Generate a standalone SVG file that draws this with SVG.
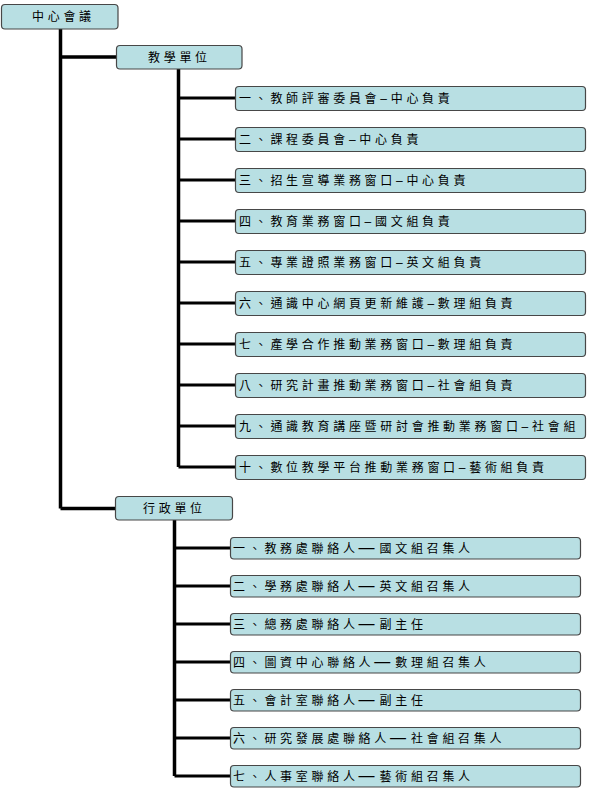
<svg xmlns="http://www.w3.org/2000/svg" width="589" height="793" viewBox="0 0 589 793">
<style>
.box{fill:#b8dfe3;stroke:#474747;stroke-width:1.2}
.lbl{font-family:"Noto Sans CJK TC","Noto Sans CJK SC",sans-serif;font-size:12px;letter-spacing:3.7px;fill:#000}
.en{font-family:"Liberation Sans",sans-serif;font-size:12px;letter-spacing:3.7px}
.em{font-family:"Liberation Sans",sans-serif;font-size:16px;letter-spacing:5px}
.con{stroke:#000;stroke-width:3.5;fill:none}
.hc{stroke:#000;stroke-width:3;fill:none}
</style>
<rect width="589" height="793" fill="#fff"/>
<g id="connectors">
<path class="con" d="M60.5 29V508.5M60.5 57H116M60.5 508.5H115"/>
<path class="con" d="M178.5 69V467"/>
<path class="hc" d="M178.5 98H235M178.5 139H235M178.5 180H235M178.5 221H235M178.5 262H235M178.5 303H235M178.5 344H235M178.5 385H235M178.5 426H235M178.5 467H235"/>
<path class="con" d="M174.5 520V776"/>
<path class="hc" d="M174.5 548H230M174.5 586H230M174.5 624H230M174.5 662H230M174.5 700H230M174.5 738H230M174.5 776H230"/>
</g>
<g id="root"><rect class="box" x="1.5" y="4.5" width="116.5" height="24.5" rx="3.5"/><text class="lbl" x="32" y="21">中心會議</text></g>
<g id="teach"><rect class="box" x="116.5" y="45.5" width="125.5" height="23.5" rx="3.5"/><text class="lbl" x="148" y="62">教學單位</text></g>
<g id="t1"><rect class="box" x="235.5" y="86.5" width="350" height="24" rx="3.5"/><text class="lbl" x="239" y="103">一、教師評審委員會<tspan class="en">–</tspan>中心負責</text></g>
<g id="t2"><rect class="box" x="235.5" y="127.5" width="350" height="24" rx="3.5"/><text class="lbl" x="239" y="144">二、課程委員會<tspan class="en">–</tspan>中心負責</text></g>
<g id="t3"><rect class="box" x="235.5" y="168.5" width="350" height="24" rx="3.5"/><text class="lbl" x="239" y="185">三、招生宣導業務窗口<tspan class="en">–</tspan>中心負責</text></g>
<g id="t4"><rect class="box" x="235.5" y="209.5" width="350" height="24" rx="3.5"/><text class="lbl" x="239" y="226">四、教育業務窗口<tspan class="en">–</tspan>國文組負責</text></g>
<g id="t5"><rect class="box" x="235.5" y="250.5" width="350" height="24" rx="3.5"/><text class="lbl" x="239" y="267">五、專業證照業務窗口<tspan class="en">–</tspan>英文組負責</text></g>
<g id="t6"><rect class="box" x="235.5" y="291.5" width="350" height="24" rx="3.5"/><text class="lbl" x="239" y="308">六、通識中心網頁更新維護<tspan class="en">–</tspan>數理組負責</text></g>
<g id="t7"><rect class="box" x="235.5" y="332.5" width="350" height="24" rx="3.5"/><text class="lbl" x="239" y="349">七、產學合作推動業務窗口<tspan class="en">–</tspan>數理組負責</text></g>
<g id="t8"><rect class="box" x="235.5" y="373.5" width="350" height="24" rx="3.5"/><text class="lbl" x="239" y="390">八、研究計畫推動業務窗口<tspan class="en">–</tspan>社會組負責</text></g>
<g id="t9"><rect class="box" x="235.5" y="414.5" width="350" height="24" rx="3.5"/><text class="lbl" x="239" y="431">九、通識教育講座暨研討會推動業務窗口<tspan class="en">–</tspan>社會組</text></g>
<g id="t10"><rect class="box" x="235.5" y="455.5" width="350" height="24" rx="3.5"/><text class="lbl" x="239" y="472">十、數位教學平台推動業務窗口<tspan class="en">–</tspan>藝術組負責</text></g>
<g id="admin"><rect class="box" x="115.5" y="496.5" width="117" height="23.5" rx="3.5"/><text class="lbl" x="143" y="513">行政單位</text></g>
<g id="a1"><rect class="box" x="230.5" y="537.5" width="350" height="21.5" rx="3.5"/><text class="lbl" x="233" y="553">一、教務處聯絡人<tspan class="em">—</tspan>國文組召集人</text></g>
<g id="a2"><rect class="box" x="230.5" y="575.5" width="350" height="21.5" rx="3.5"/><text class="lbl" x="233" y="591">二、學務處聯絡人<tspan class="em">—</tspan>英文組召集人</text></g>
<g id="a3"><rect class="box" x="230.5" y="613.5" width="350" height="21.5" rx="3.5"/><text class="lbl" x="233" y="629">三、總務處聯絡人<tspan class="em">—</tspan>副主任</text></g>
<g id="a4"><rect class="box" x="230.5" y="651.5" width="350" height="21.5" rx="3.5"/><text class="lbl" x="233" y="667">四、圖資中心聯絡人<tspan class="em">—</tspan>數理組召集人</text></g>
<g id="a5"><rect class="box" x="230.5" y="689.5" width="350" height="21.5" rx="3.5"/><text class="lbl" x="233" y="705">五、會計室聯絡人<tspan class="em">—</tspan>副主任</text></g>
<g id="a6"><rect class="box" x="230.5" y="727.5" width="350" height="21.5" rx="3.5"/><text class="lbl" x="233" y="743">六、研究發展處聯絡人<tspan class="em">—</tspan>社會組召集人</text></g>
<g id="a7"><rect class="box" x="230.5" y="765.5" width="350" height="21.5" rx="3.5"/><text class="lbl" x="233" y="781">七、人事室聯絡人<tspan class="em">—</tspan>藝術組召集人</text></g>
</svg>
